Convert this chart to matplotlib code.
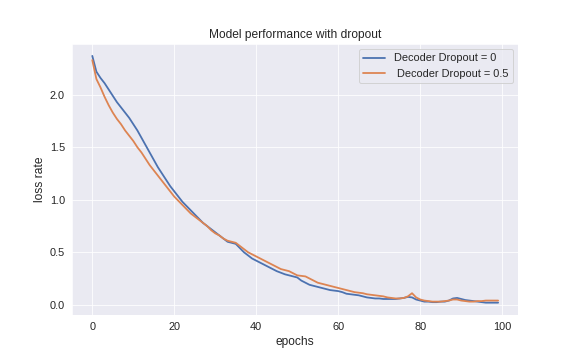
import matplotlib
matplotlib.use("Agg")
import matplotlib.pyplot as plt
import seaborn as sns
import numpy as np

epochs = list(range(100))
loss_dropout_0 = [
    2.37, 2.22, 2.16, 2.11, 2.05, 1.99, 1.93, 1.88, 1.83, 1.78,
    1.72, 1.66, 1.59, 1.52, 1.45, 1.38, 1.31, 1.25, 1.19, 1.13,
    1.08, 1.03, 0.98, 0.94, 0.90, 0.86, 0.82, 0.78, 0.75, 0.72,
    0.69, 0.66, 0.63, 0.60, 0.59, 0.58, 0.54, 0.50, 0.47, 0.44,
    0.42, 0.40, 0.38, 0.36, 0.34, 0.32, 0.305, 0.29, 0.28, 0.27,
    0.26, 0.23, 0.21, 0.19, 0.18, 0.17, 0.16, 0.15, 0.14, 0.135,
    0.13, 0.12, 0.105, 0.10, 0.095, 0.09, 0.08, 0.07, 0.065, 0.06,
    0.06, 0.055, 0.055, 0.055, 0.055, 0.06, 0.065, 0.075, 0.07, 0.05,
    0.04, 0.03, 0.03, 0.025, 0.025, 0.03, 0.03, 0.04, 0.06, 0.065,
    0.055, 0.045, 0.04, 0.035, 0.03, 0.025, 0.02, 0.02, 0.02, 0.02,
]
loss_dropout_05 = [
    2.33, 2.15, 2.07, 1.98, 1.90, 1.83, 1.77, 1.72, 1.66, 1.61,
    1.56, 1.50, 1.45, 1.39, 1.33, 1.28, 1.23, 1.18, 1.13, 1.08,
    1.03, 0.99, 0.95, 0.91, 0.87, 0.84, 0.81, 0.78, 0.75, 0.71,
    0.68, 0.66, 0.63, 0.61, 0.60, 0.59, 0.56, 0.53, 0.50, 0.48,
    0.46, 0.44, 0.42, 0.40, 0.38, 0.36, 0.34, 0.33, 0.32, 0.30,
    0.28, 0.275, 0.27, 0.25, 0.23, 0.21, 0.20, 0.19, 0.18, 0.17,
    0.16, 0.15, 0.14, 0.13, 0.12, 0.115, 0.11, 0.10, 0.095, 0.09,
    0.085, 0.08, 0.07, 0.065, 0.06, 0.06, 0.065, 0.08, 0.11, 0.07,
    0.05, 0.04, 0.035, 0.03, 0.03, 0.03, 0.035, 0.04, 0.05, 0.05,
    0.04, 0.035, 0.03, 0.03, 0.035, 0.035, 0.04, 0.04, 0.04, 0.04,
]
labels = ["Decoder Dropout = 0", " Decoder Dropout = 0.5"]

sns.set_style("darkgrid")
plt.rcParams['font.family'] = ['Liberation Sans', 'DejaVu Sans']

fig, ax = plt.subplots(figsize=(8, 5), dpi=72)
fig.subplots_adjust(left=0.125, right=0.9, bottom=0.125, top=0.879)
ax.plot(epochs, loss_dropout_0, color="#4c72b0", linewidth=1.8, label=labels[0])
ax.plot(epochs, loss_dropout_05, color="#dd8452", linewidth=1.8, label=labels[1])
ax.set_title("Model performance with dropout", fontsize=12)
ax.set_xlabel("epochs", fontsize=12)
ax.set_ylabel("loss rate", fontsize=12)
ax.tick_params(labelsize=11)
ax.legend(loc="upper right", fontsize=11)
fig.savefig("out.png", dpi=72)
